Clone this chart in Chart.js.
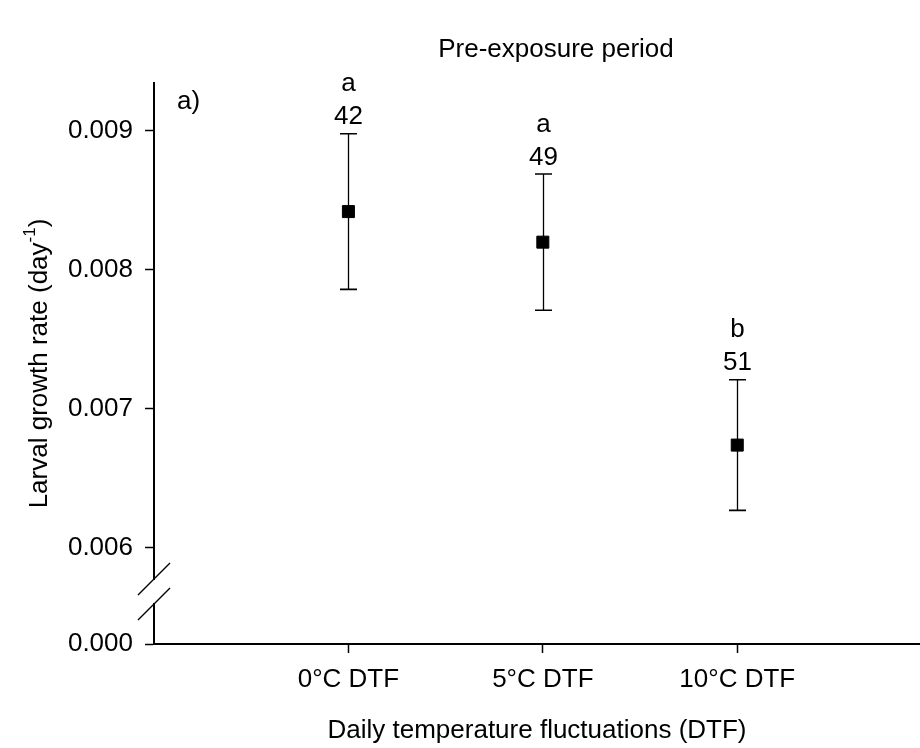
<!DOCTYPE html>
<html><head><meta charset="utf-8">
<script src="https://cdn.jsdelivr.net/npm/chart.js@4"></script>
<style>html,body{margin:0;padding:0;background:#fff;overflow:hidden}#wrap{width:920px;height:748px}</style>
</head><body><div id="wrap"><canvas id="c" width="920" height="748"></canvas></div>
<script>
// ---- data ----
const categories = ['0°C DTF', '5°C DTF', '10°C DTF'];
const means = [0.00842, 0.00820, 0.00674];
const stdErrors = [0.00056, 0.00049, 0.00047];
const sampleSizes = ['42', '49', '51'];
const groupLetters = ['a', 'a', 'b'];
const yTickValues = [0.000, 0.006, 0.007, 0.008, 0.009];
const yTickLabels = ['0.000', '0.006', '0.007', '0.008', '0.009'];
const chartTitle = 'Pre-exposure period';
const panelLabel = 'a)';
const xAxisTitle = 'Daily temperature fluctuations (DTF)';
const yTitleMain = 'Larval growth rate (day';
const yTitleSup = '-1';
const yTitleEnd = ')';

// ---- broken axis settings ----
const BREAK_LOW = 0.006;        // lowest value shown above the break
const BREAK_BASE = 0.005309;    // axis position where 0.000 is drawn
const Y_MAX = 0.009345;
const X_MAX = 3.94;
function toAxis(v) { return v < BREAK_LOW ? BREAK_BASE : v; }

const FONT = '"Liberation Sans", Arial, Helvetica, sans-serif';
const FS = 26;
Chart.defaults.font.family = FONT;
Chart.defaults.color = '#000';

const annot = {
  id: 'annot',
  beforeDatasetsDraw(chart) {
    const ctx = chart.ctx, xs = chart.scales.x, ys = chart.scales.y;
    ctx.save();
    ctx.strokeStyle = '#000';
    ctx.fillStyle = '#000';
    ctx.font = FS + 'px ' + FONT;
    ctx.textAlign = 'center';
    ctx.textBaseline = 'alphabetic';
    means.forEach((m, i) => {
      const x = Math.round(xs.getPixelForValue(i + 1)) + 0.5;
      const yt = ys.getPixelForValue(toAxis(m + stdErrors[i]));
      const yb = ys.getPixelForValue(toAxis(m - stdErrors[i]));
      ctx.lineWidth = 1.3;
      ctx.beginPath();
      ctx.moveTo(x, yt); ctx.lineTo(x, yb);
      ctx.stroke();
      ctx.lineWidth = 1.6;
      ctx.beginPath();
      ctx.moveTo(x - 8.5, yt); ctx.lineTo(x + 8.5, yt);
      ctx.moveTo(x - 8.5, yb); ctx.lineTo(x + 8.5, yb);
      ctx.stroke();
      const nb = yt - 9.5;
      ctx.fillText(sampleSizes[i], x, nb);
      ctx.fillText(groupLetters[i], x, nb - 33);
    });
    ctx.restore();
  },
  afterDraw(chart) {
    const ctx = chart.ctx, ys = chart.scales.y, area = chart.chartArea;
    ctx.save();
    // axis break
    const base = ys.getPixelForValue(BREAK_BASE);
    const p6 = ys.getPixelForValue(BREAK_LOW);
    const ax = area.left;
    const up = base - 0.677 * (base - p6);
    const lo = base - 0.417 * (base - p6);
    ctx.fillStyle = '#fff';
    ctx.fillRect(ax - 3, up + 1, 6, lo - up - 2);
    ctx.strokeStyle = '#000';
    ctx.lineWidth = 1.4;
    ctx.beginPath();
    ctx.moveTo(ax - 16, up + 16); ctx.lineTo(ax + 16, up - 16);
    ctx.moveTo(ax - 16, lo + 16); ctx.lineTo(ax + 16, lo - 16);
    ctx.stroke();

    ctx.fillStyle = '#000';
    ctx.font = FS + 'px ' + FONT;
    ctx.textBaseline = 'middle';
    // title
    ctx.textAlign = 'center';
    ctx.fillText(chartTitle, 556, 50);
    // panel label
    ctx.textAlign = 'left';
    ctx.fillText(panelLabel, 177, 102);
    // y-axis title with superscript
    ctx.translate(40, (area.top + area.bottom) / 2);
    ctx.rotate(-Math.PI / 2);
    const supFont = '17px ' + FONT;
    const w1 = ctx.measureText(yTitleMain).width;
    ctx.font = supFont;
    const w2 = ctx.measureText(yTitleSup).width;
    ctx.font = FS + 'px ' + FONT;
    const w3 = ctx.measureText(yTitleEnd).width;
    let sx = -(w1 + w2 + w3) / 2;
    ctx.fillText(yTitleMain, sx, 0);
    ctx.font = supFont;
    ctx.fillText(yTitleSup, sx + w1, -10);
    ctx.font = FS + 'px ' + FONT;
    ctx.fillText(yTitleEnd, sx + w1 + w2, 0);
    ctx.restore();
  }
};

new Chart(document.getElementById('c'), {
  type: 'scatter',
  data: {
    datasets: [{
      data: means.map((m, i) => ({ x: i + 1, y: toAxis(m) })),
      pointStyle: 'rect',
      pointRadius: 8.5,
      pointHoverRadius: 8.5,
      backgroundColor: '#000',
      borderColor: '#000',
      borderWidth: 1,
      showLine: false
    }]
  },
  options: {
    responsive: false,
    animation: false,
    devicePixelRatio: 1,
    layout: { autoPadding: false, padding: { top: 83, left: 0, right: 0, bottom: 0 } },
    plugins: { legend: { display: false }, tooltip: { enabled: false }, title: { display: false } },
    scales: {
      x: {
        type: 'linear',
        min: 0,
        max: X_MAX,
        afterBuildTicks: s => { s.ticks = categories.map((_, i) => ({ value: i + 1 })); },
        afterFit: s => { s.height = 104; s.paddingLeft = 0; s.paddingRight = 0; },
        ticks: {
          callback: v => categories[Math.round(v) - 1],
          font: { size: FS, family: FONT },
          color: '#000',
          padding: 11,
          autoSkip: false,
          maxRotation: 0
        },
        grid: { display: true, drawOnChartArea: false, drawTicks: true, tickLength: 9, tickColor: '#000', tickWidth: 1.5 },
        border: { display: true, color: '#000', width: 2 },
        title: { display: true, text: xAxisTitle, font: { size: FS, family: FONT }, color: '#000', padding: { top: 0, bottom: 2 } }
      },
      y: {
        type: 'linear',
        min: BREAK_BASE,
        max: Y_MAX,
        afterBuildTicks: s => { s.ticks = yTickValues.map(v => ({ value: toAxis(v) })); },
        afterFit: s => { s.width = 154; s.paddingTop = 0; s.paddingBottom = 0; },
        ticks: {
          callback: (v, i) => yTickLabels[i],
          font: { size: FS, family: FONT },
          color: '#000',
          padding: 12,
          autoSkip: false
        },
        grid: { display: true, drawOnChartArea: false, drawTicks: true, tickLength: 9, tickColor: '#000', tickWidth: 1.5 },
        border: { display: true, color: '#000', width: 2 }
      }
    }
  },
  plugins: [annot]
});
</script>
</body></html>
